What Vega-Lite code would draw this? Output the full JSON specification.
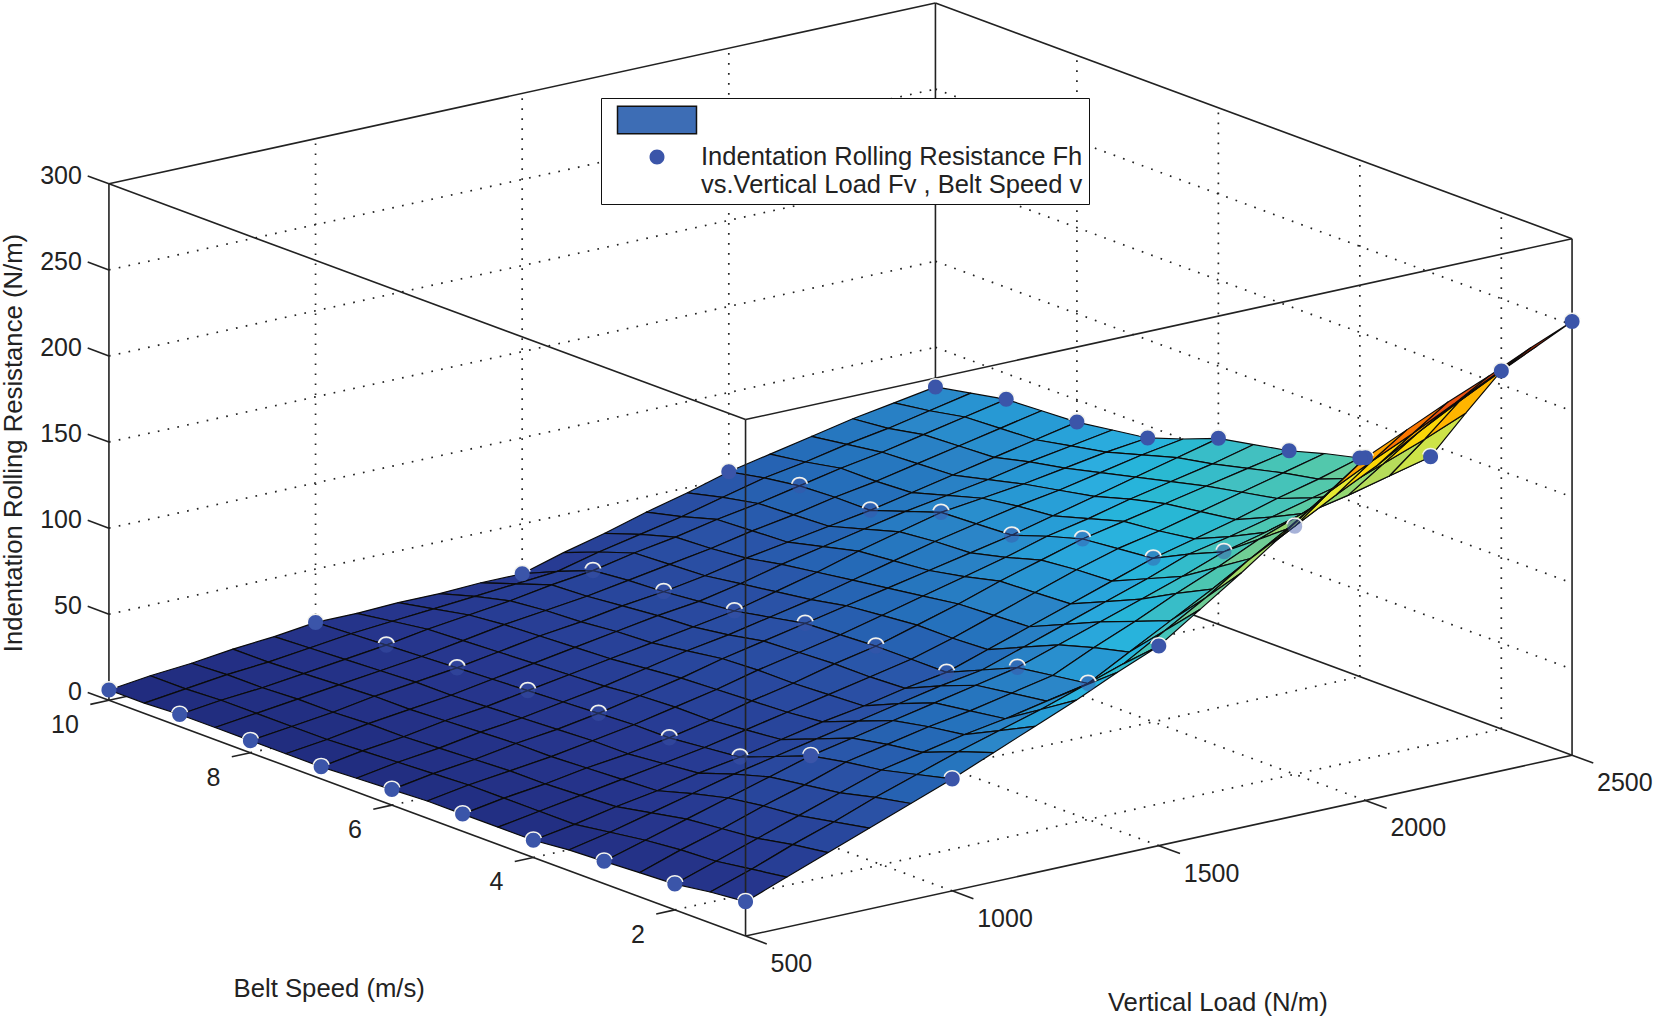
{
"$schema":"https://vega.github.io/schema/vega-lite/v6.json",
"width":1653,"height":1016,"padding":0,"autosize":{"type":"fit","contains":"padding"},
"background":"white",
"config":{"view":{"stroke":null},
"text":{"font":"Liberation Sans","color":"#222"},
"legend":{"orient":"none","legendX":600,"legendY":98,"title":null,"padding":6,"strokeColor":"#111","fillColor":"white","symbolSize":900,"symbolStrokeWidth":1.5,"symbolOffset":34,"labelOffset":28,"labelFont":"Liberation Sans","labelFontSize":25.5,"labelColor":"#222","labelLimit":600,"rowPadding":4}},
"encoding":{
"x":{"field":"px","type":"quantitative","axis":null,"scale":{"domain":[0,1653],"nice":false,"zero":false}},
"y":{"field":"py","type":"quantitative","axis":null,"scale":{"domain":[1016,0],"nice":false,"zero":false}}},
"datasets":{
"frame":[
{"part":"grid","load":1000,"speed":10,"fh":0,"load2":1000,"speed2":10,"fh2":300},
{"part":"grid","load":1500,"speed":10,"fh":0,"load2":1500,"speed2":10,"fh2":300},
{"part":"grid","load":2000,"speed":10,"fh":0,"load2":2000,"speed2":10,"fh2":300},
{"part":"grid","load":1000,"speed":1,"fh":0,"load2":1000,"speed2":10,"fh2":0},
{"part":"grid","load":1500,"speed":1,"fh":0,"load2":1500,"speed2":10,"fh2":0},
{"part":"grid","load":2000,"speed":1,"fh":0,"load2":2000,"speed2":10,"fh2":0},
{"part":"grid","load":2500,"speed":2,"fh":0,"load2":2500,"speed2":2,"fh2":300},
{"part":"grid","load":2500,"speed":4,"fh":0,"load2":2500,"speed2":4,"fh2":300},
{"part":"grid","load":2500,"speed":6,"fh":0,"load2":2500,"speed2":6,"fh2":300},
{"part":"grid","load":2500,"speed":8,"fh":0,"load2":2500,"speed2":8,"fh2":300},
{"part":"grid","load":500,"speed":2,"fh":0,"load2":2500,"speed2":2,"fh2":0},
{"part":"grid","load":500,"speed":4,"fh":0,"load2":2500,"speed2":4,"fh2":0},
{"part":"grid","load":500,"speed":6,"fh":0,"load2":2500,"speed2":6,"fh2":0},
{"part":"grid","load":500,"speed":8,"fh":0,"load2":2500,"speed2":8,"fh2":0},
{"part":"grid","load":500,"speed":10,"fh":50,"load2":2500,"speed2":10,"fh2":50},
{"part":"grid","load":500,"speed":10,"fh":100,"load2":2500,"speed2":10,"fh2":100},
{"part":"grid","load":500,"speed":10,"fh":150,"load2":2500,"speed2":10,"fh2":150},
{"part":"grid","load":500,"speed":10,"fh":200,"load2":2500,"speed2":10,"fh2":200},
{"part":"grid","load":500,"speed":10,"fh":250,"load2":2500,"speed2":10,"fh2":250},
{"part":"grid","load":2500,"speed":10,"fh":50,"load2":2500,"speed2":1,"fh2":50},
{"part":"grid","load":2500,"speed":10,"fh":100,"load2":2500,"speed2":1,"fh2":100},
{"part":"grid","load":2500,"speed":10,"fh":150,"load2":2500,"speed2":1,"fh2":150},
{"part":"grid","load":2500,"speed":10,"fh":200,"load2":2500,"speed2":1,"fh2":200},
{"part":"grid","load":2500,"speed":10,"fh":250,"load2":2500,"speed2":1,"fh2":250},
{"part":"back","load":500,"speed":10,"fh":0,"load2":2500,"speed2":10,"fh2":0},
{"part":"back","load":2500,"speed":10,"fh":0,"load2":2500,"speed2":1,"fh2":0},
{"part":"back","load":2500,"speed":10,"fh":0,"load2":2500,"speed2":10,"fh2":300},
{"part":"front","load":500,"speed":1,"fh":0,"load2":2500,"speed2":1,"fh2":0},
{"part":"front","load":500,"speed":1,"fh":0,"load2":500,"speed2":10,"fh2":0},
{"part":"front","load":500,"speed":1,"fh":0,"load2":500,"speed2":1,"fh2":300},
{"part":"front","load":500,"speed":10,"fh":0,"load2":500,"speed2":10,"fh2":300},
{"part":"front","load":2500,"speed":1,"fh":0,"load2":2500,"speed2":1,"fh2":300},
{"part":"front","load":500,"speed":1,"fh":300,"load2":2500,"speed2":1,"fh2":300},
{"part":"front","load":2500,"speed":1,"fh":300,"load2":2500,"speed2":10,"fh2":300},
{"part":"front","load":2500,"speed":10,"fh":300,"load2":500,"speed2":10,"fh2":300},
{"part":"front","load":500,"speed":10,"fh":300,"load2":500,"speed2":1,"fh2":300},
{"part":"front","load":500,"speed":1,"fh":0,"load2":500,"speed2":0.7,"fh2":0},
{"part":"front","load":1000,"speed":1,"fh":0,"load2":1000,"speed2":0.7,"fh2":0},
{"part":"front","load":1500,"speed":1,"fh":0,"load2":1500,"speed2":0.7,"fh2":0},
{"part":"front","load":2000,"speed":1,"fh":0,"load2":2000,"speed2":0.7,"fh2":0},
{"part":"front","load":2500,"speed":1,"fh":0,"load2":2500,"speed2":0.7,"fh2":0},
{"part":"front","load":500,"speed":2,"fh":0,"load2":455,"speed2":2,"fh2":0},
{"part":"front","load":500,"speed":4,"fh":0,"load2":455,"speed2":4,"fh2":0},
{"part":"front","load":500,"speed":6,"fh":0,"load2":455,"speed2":6,"fh2":0},
{"part":"front","load":500,"speed":8,"fh":0,"load2":455,"speed2":8,"fh2":0},
{"part":"front","load":500,"speed":10,"fh":0,"load2":455,"speed2":10,"fh2":0},
{"part":"front","load":500,"speed":10,"fh":0,"load2":500,"speed2":10.3,"fh2":0},
{"part":"front","load":500,"speed":10,"fh":50,"load2":500,"speed2":10.3,"fh2":50},
{"part":"front","load":500,"speed":10,"fh":100,"load2":500,"speed2":10.3,"fh2":100},
{"part":"front","load":500,"speed":10,"fh":150,"load2":500,"speed2":10.3,"fh2":150},
{"part":"front","load":500,"speed":10,"fh":200,"load2":500,"speed2":10.3,"fh2":200},
{"part":"front","load":500,"speed":10,"fh":250,"load2":500,"speed2":10.3,"fh2":250},
{"part":"front","load":500,"speed":10,"fh":300,"load2":500,"speed2":10.3,"fh2":300}],
"labels":[
{"axis":"load","label":"500","load":500,"speed":1,"fh":0},{"axis":"load","label":"1000","load":1000,"speed":1,"fh":0},{"axis":"load","label":"1500","load":1500,"speed":1,"fh":0},{"axis":"load","label":"2000","load":2000,"speed":1,"fh":0},{"axis":"load","label":"2500","load":2500,"speed":1,"fh":0},
{"axis":"speed","label":"2","load":500,"speed":2,"fh":0},{"axis":"speed","label":"4","load":500,"speed":4,"fh":0},{"axis":"speed","label":"6","load":500,"speed":6,"fh":0},{"axis":"speed","label":"8","load":500,"speed":8,"fh":0},{"axis":"speed","label":"10","load":500,"speed":10,"fh":0},
{"axis":"fh","label":"0","load":500,"speed":10,"fh":0},{"axis":"fh","label":"50","load":500,"speed":10,"fh":50},{"axis":"fh","label":"100","load":500,"speed":10,"fh":100},{"axis":"fh","label":"150","load":500,"speed":10,"fh":150},{"axis":"fh","label":"200","load":500,"speed":10,"fh":200},{"axis":"fh","label":"250","load":500,"speed":10,"fh":250},{"axis":"fh","label":"300","load":500,"speed":10,"fh":300},
{"axis":"loadTitle","label":"Vertical Load (N/m)","load":1500,"speed":1,"fh":0},
{"axis":"speedTitle","label":"Belt Speed (m/s)","load":500,"speed":5.5,"fh":0},
{"axis":"fhTitle","label":"Indentation Rolling Resistance (N/m)","load":500,"speed":10,"fh":150}],
"dots":[
{"series":"dots","load":500,"speed":1,"fh":20},{"series":"dots","load":500,"speed":2,"fh":15},{"series":"dots","load":500,"speed":3,"fh":13},{"series":"dots","load":500,"speed":4,"fh":10},{"series":"dots","load":500,"speed":5,"fh":10},{"series":"dots","load":500,"speed":6,"fh":9},{"series":"dots","load":500,"speed":7,"fh":7},{"series":"dots","load":500,"speed":8,"fh":7},{"series":"dots","load":500,"speed":9,"fh":7},{"series":"dots","load":500,"speed":10,"fh":6},
{"series":"dots","load":1000,"speed":1,"fh":65},{"series":"dots","load":1000,"speed":3,"fh":48},{"series":"dots","load":1000,"speed":4,"fh":32},{"series":"dots","load":1000,"speed":5,"fh":28},{"series":"dots","load":1000,"speed":6,"fh":27},{"series":"dots","load":1000,"speed":7,"fh":25},{"series":"dots","load":1000,"speed":8,"fh":23},{"series":"dots","load":1000,"speed":9,"fh":21},{"series":"dots","load":1000,"speed":10,"fh":19},
{"series":"dots","load":1500,"speed":1,"fh":116},{"series":"dots","load":1500,"speed":2,"fh":79},{"series":"dots","load":1500,"speed":3,"fh":73},{"series":"dots","load":1500,"speed":4,"fh":55},{"series":"dots","load":1500,"speed":5,"fh":55},{"series":"dots","load":1500,"speed":6,"fh":53},{"series":"dots","load":1500,"speed":7,"fh":45},{"series":"dots","load":1500,"speed":8,"fh":41},{"series":"dots","load":1500,"speed":9,"fh":38},{"series":"dots","load":1500,"speed":10,"fh":21},
{"series":"dots","load":2000,"speed":1,"fh":199},{"series":"dots","load":2000,"speed":2,"fh":144},{"series":"dots","load":2000,"speed":3,"fh":114},{"series":"dots","load":2000,"speed":4,"fh":95},{"series":"dots","load":2000,"speed":5,"fh":91},{"series":"dots","load":2000,"speed":6,"fh":78},{"series":"dots","load":2000,"speed":7,"fh":76},{"series":"dots","load":2000,"speed":8,"fh":62},{"series":"dots","load":2000,"speed":9,"fh":61},{"series":"dots","load":2000,"speed":10,"fh":54},
{"series":"dots","load":2500,"speed":1,"fh":252},{"series":"dots","load":2500,"speed":2,"fh":208},{"series":"dots","load":2500,"speed":3,"fh":143},{"series":"dots","load":2500,"speed":4,"fh":127},{"series":"dots","load":2500,"speed":5,"fh":116},{"series":"dots","load":2500,"speed":6,"fh":108},{"series":"dots","load":2500,"speed":7,"fh":93},{"series":"dots","load":2500,"speed":8,"fh":87},{"series":"dots","load":2500,"speed":9,"fh":85},{"series":"dots","load":2500,"speed":10,"fh":77}],
"surface":[
{"load":2500,"speed":10,"fh":77},{"load":2400,"speed":10,"fh":73},{"load":2300,"speed":10,"fh":69},{"load":2200,"speed":10,"fh":64},{"load":2100,"speed":10,"fh":59},{"load":2000,"speed":10,"fh":54},{"load":1900,"speed":10,"fh":47},{"load":1800,"speed":10,"fh":41},{"load":1700,"speed":10,"fh":34},{"load":1600,"speed":10,"fh":28},{"load":1500,"speed":10,"fh":21},{"load":1400,"speed":10,"fh":21},{"load":1300,"speed":10,"fh":20},{"load":1200,"speed":10,"fh":20},{"load":1100,"speed":10,"fh":19},{"load":1000,"speed":10,"fh":19},{"load":900,"speed":10,"fh":16},{"load":800,"speed":10,"fh":14},{"load":700,"speed":10,"fh":11},{"load":600,"speed":10,"fh":9},{"load":500,"speed":10,"fh":6},
{"load":2500,"speed":9.5,"fh":81},{"load":2400,"speed":9.5,"fh":76},{"load":2300,"speed":9.5,"fh":71},{"load":2200,"speed":9.5,"fh":67},{"load":2100,"speed":9.5,"fh":62},{"load":2000,"speed":9.5,"fh":58},{"load":1900,"speed":9.5,"fh":52},{"load":1800,"speed":9.5,"fh":46},{"load":1700,"speed":9.5,"fh":41},{"load":1600,"speed":9.5,"fh":36},{"load":1500,"speed":9.5,"fh":30},{"load":1400,"speed":9.5,"fh":28},{"load":1300,"speed":9.5,"fh":26},{"load":1200,"speed":9.5,"fh":24},{"load":1100,"speed":9.5,"fh":22},{"load":1000,"speed":9.5,"fh":20},{"load":900,"speed":9.5,"fh":17},{"load":800,"speed":9.5,"fh":14},{"load":700,"speed":9.5,"fh":12},{"load":600,"speed":9.5,"fh":9},{"load":500,"speed":9.5,"fh":6},
{"load":2500,"speed":9,"fh":85},{"load":2400,"speed":9,"fh":80},{"load":2300,"speed":9,"fh":75},{"load":2200,"speed":9,"fh":70},{"load":2100,"speed":9,"fh":66},{"load":2000,"speed":9,"fh":61},{"load":1900,"speed":9,"fh":56},{"load":1800,"speed":9,"fh":52},{"load":1700,"speed":9,"fh":47},{"load":1600,"speed":9,"fh":43},{"load":1500,"speed":9,"fh":38},{"load":1400,"speed":9,"fh":35},{"load":1300,"speed":9,"fh":31},{"load":1200,"speed":9,"fh":28},{"load":1100,"speed":9,"fh":25},{"load":1000,"speed":9,"fh":21},{"load":900,"speed":9,"fh":18},{"load":800,"speed":9,"fh":15},{"load":700,"speed":9,"fh":12},{"load":600,"speed":9,"fh":10},{"load":500,"speed":9,"fh":7},
{"load":2500,"speed":8.5,"fh":86},{"load":2400,"speed":8.5,"fh":81},{"load":2300,"speed":8.5,"fh":76},{"load":2200,"speed":8.5,"fh":71},{"load":2100,"speed":8.5,"fh":66},{"load":2000,"speed":8.5,"fh":62},{"load":1900,"speed":8.5,"fh":57},{"load":1800,"speed":8.5,"fh":53},{"load":1700,"speed":8.5,"fh":48},{"load":1600,"speed":8.5,"fh":44},{"load":1500,"speed":8.5,"fh":40},{"load":1400,"speed":8.5,"fh":36},{"load":1300,"speed":8.5,"fh":33},{"load":1200,"speed":8.5,"fh":30},{"load":1100,"speed":8.5,"fh":26},{"load":1000,"speed":8.5,"fh":22},{"load":900,"speed":8.5,"fh":19},{"load":800,"speed":8.5,"fh":16},{"load":700,"speed":8.5,"fh":13},{"load":600,"speed":8.5,"fh":10},{"load":500,"speed":8.5,"fh":7},
{"load":2500,"speed":8,"fh":87},{"load":2400,"speed":8,"fh":82},{"load":2300,"speed":8,"fh":77},{"load":2200,"speed":8,"fh":72},{"load":2100,"speed":8,"fh":67},{"load":2000,"speed":8,"fh":62},{"load":1900,"speed":8,"fh":58},{"load":1800,"speed":8,"fh":54},{"load":1700,"speed":8,"fh":50},{"load":1600,"speed":8,"fh":45},{"load":1500,"speed":8,"fh":41},{"load":1400,"speed":8,"fh":38},{"load":1300,"speed":8,"fh":34},{"load":1200,"speed":8,"fh":31},{"load":1100,"speed":8,"fh":27},{"load":1000,"speed":8,"fh":23},{"load":900,"speed":8,"fh":20},{"load":800,"speed":8,"fh":17},{"load":700,"speed":8,"fh":13},{"load":600,"speed":8,"fh":10},{"load":500,"speed":8,"fh":7},
{"load":2500,"speed":7.5,"fh":90},{"load":2400,"speed":7.5,"fh":86},{"load":2300,"speed":7.5,"fh":82},{"load":2200,"speed":7.5,"fh":77},{"load":2100,"speed":7.5,"fh":73},{"load":2000,"speed":7.5,"fh":69},{"load":1900,"speed":7.5,"fh":64},{"load":1800,"speed":7.5,"fh":59},{"load":1700,"speed":7.5,"fh":54},{"load":1600,"speed":7.5,"fh":48},{"load":1500,"speed":7.5,"fh":43},{"load":1400,"speed":7.5,"fh":40},{"load":1300,"speed":7.5,"fh":36},{"load":1200,"speed":7.5,"fh":32},{"load":1100,"speed":7.5,"fh":28},{"load":1000,"speed":7.5,"fh":24},{"load":900,"speed":7.5,"fh":20},{"load":800,"speed":7.5,"fh":17},{"load":700,"speed":7.5,"fh":14},{"load":600,"speed":7.5,"fh":10},{"load":500,"speed":7.5,"fh":7},
{"load":2500,"speed":7,"fh":93},{"load":2400,"speed":7,"fh":90},{"load":2300,"speed":7,"fh":86},{"load":2200,"speed":7,"fh":82},{"load":2100,"speed":7,"fh":79},{"load":2000,"speed":7,"fh":76},{"load":1900,"speed":7,"fh":70},{"load":1800,"speed":7,"fh":64},{"load":1700,"speed":7,"fh":57},{"load":1600,"speed":7,"fh":51},{"load":1500,"speed":7,"fh":45},{"load":1400,"speed":7,"fh":41},{"load":1300,"speed":7,"fh":37},{"load":1200,"speed":7,"fh":33},{"load":1100,"speed":7,"fh":29},{"load":1000,"speed":7,"fh":25},{"load":900,"speed":7,"fh":21},{"load":800,"speed":7,"fh":18},{"load":700,"speed":7,"fh":14},{"load":600,"speed":7,"fh":11},{"load":500,"speed":7,"fh":7},
{"load":2500,"speed":6.5,"fh":100},{"load":2400,"speed":6.5,"fh":96},{"load":2300,"speed":6.5,"fh":91},{"load":2200,"speed":6.5,"fh":86},{"load":2100,"speed":6.5,"fh":82},{"load":2000,"speed":6.5,"fh":77},{"load":1900,"speed":6.5,"fh":72},{"load":1800,"speed":6.5,"fh":66},{"load":1700,"speed":6.5,"fh":60},{"load":1600,"speed":6.5,"fh":54},{"load":1500,"speed":6.5,"fh":49},{"load":1400,"speed":6.5,"fh":44},{"load":1300,"speed":6.5,"fh":40},{"load":1200,"speed":6.5,"fh":35},{"load":1100,"speed":6.5,"fh":30},{"load":1000,"speed":6.5,"fh":26},{"load":900,"speed":6.5,"fh":22},{"load":800,"speed":6.5,"fh":19},{"load":700,"speed":6.5,"fh":15},{"load":600,"speed":6.5,"fh":12},{"load":500,"speed":6.5,"fh":8},
{"load":2500,"speed":6,"fh":108},{"load":2400,"speed":6,"fh":102},{"load":2300,"speed":6,"fh":96},{"load":2200,"speed":6,"fh":90},{"load":2100,"speed":6,"fh":84},{"load":2000,"speed":6,"fh":78},{"load":1900,"speed":6,"fh":73},{"load":1800,"speed":6,"fh":68},{"load":1700,"speed":6,"fh":63},{"load":1600,"speed":6,"fh":58},{"load":1500,"speed":6,"fh":53},{"load":1400,"speed":6,"fh":48},{"load":1300,"speed":6,"fh":43},{"load":1200,"speed":6,"fh":37},{"load":1100,"speed":6,"fh":32},{"load":1000,"speed":6,"fh":27},{"load":900,"speed":6,"fh":23},{"load":800,"speed":6,"fh":20},{"load":700,"speed":6,"fh":16},{"load":600,"speed":6,"fh":13},{"load":500,"speed":6,"fh":9},
{"load":2500,"speed":5.5,"fh":112},{"load":2400,"speed":5.5,"fh":106},{"load":2300,"speed":5.5,"fh":101},{"load":2200,"speed":5.5,"fh":96},{"load":2100,"speed":5.5,"fh":90},{"load":2000,"speed":5.5,"fh":85},{"load":1900,"speed":5.5,"fh":78},{"load":1800,"speed":5.5,"fh":72},{"load":1700,"speed":5.5,"fh":66},{"load":1600,"speed":5.5,"fh":60},{"load":1500,"speed":5.5,"fh":54},{"load":1400,"speed":5.5,"fh":49},{"load":1300,"speed":5.5,"fh":44},{"load":1200,"speed":5.5,"fh":38},{"load":1100,"speed":5.5,"fh":33},{"load":1000,"speed":5.5,"fh":28},{"load":900,"speed":5.5,"fh":24},{"load":800,"speed":5.5,"fh":20},{"load":700,"speed":5.5,"fh":17},{"load":600,"speed":5.5,"fh":14},{"load":500,"speed":5.5,"fh":10},
{"load":2500,"speed":5,"fh":116},{"load":2400,"speed":5,"fh":111},{"load":2300,"speed":5,"fh":106},{"load":2200,"speed":5,"fh":101},{"load":2100,"speed":5,"fh":96},{"load":2000,"speed":5,"fh":91},{"load":1900,"speed":5,"fh":84},{"load":1800,"speed":5,"fh":77},{"load":1700,"speed":5,"fh":69},{"load":1600,"speed":5,"fh":62},{"load":1500,"speed":5,"fh":55},{"load":1400,"speed":5,"fh":50},{"load":1300,"speed":5,"fh":44},{"load":1200,"speed":5,"fh":39},{"load":1100,"speed":5,"fh":33},{"load":1000,"speed":5,"fh":28},{"load":900,"speed":5,"fh":24},{"load":800,"speed":5,"fh":21},{"load":700,"speed":5,"fh":17},{"load":600,"speed":5,"fh":14},{"load":500,"speed":5,"fh":10},
{"load":2500,"speed":4.5,"fh":122},{"load":2400,"speed":4.5,"fh":116},{"load":2300,"speed":4.5,"fh":110},{"load":2200,"speed":4.5,"fh":104},{"load":2100,"speed":4.5,"fh":98},{"load":2000,"speed":4.5,"fh":93},{"load":1900,"speed":4.5,"fh":86},{"load":1800,"speed":4.5,"fh":78},{"load":1700,"speed":4.5,"fh":70},{"load":1600,"speed":4.5,"fh":62},{"load":1500,"speed":4.5,"fh":55},{"load":1400,"speed":4.5,"fh":50},{"load":1300,"speed":4.5,"fh":45},{"load":1200,"speed":4.5,"fh":40},{"load":1100,"speed":4.5,"fh":35},{"load":1000,"speed":4.5,"fh":30},{"load":900,"speed":4.5,"fh":26},{"load":800,"speed":4.5,"fh":22},{"load":700,"speed":4.5,"fh":18},{"load":600,"speed":4.5,"fh":14},{"load":500,"speed":4.5,"fh":10},
{"load":2500,"speed":4,"fh":127},{"load":2400,"speed":4,"fh":120},{"load":2300,"speed":4,"fh":114},{"load":2200,"speed":4,"fh":107},{"load":2100,"speed":4,"fh":101},{"load":2000,"speed":4,"fh":95},{"load":1900,"speed":4,"fh":87},{"load":1800,"speed":4,"fh":79},{"load":1700,"speed":4,"fh":71},{"load":1600,"speed":4,"fh":63},{"load":1500,"speed":4,"fh":55},{"load":1400,"speed":4,"fh":51},{"load":1300,"speed":4,"fh":46},{"load":1200,"speed":4,"fh":42},{"load":1100,"speed":4,"fh":37},{"load":1000,"speed":4,"fh":32},{"load":900,"speed":4,"fh":28},{"load":800,"speed":4,"fh":23},{"load":700,"speed":4,"fh":19},{"load":600,"speed":4,"fh":14},{"load":500,"speed":4,"fh":10},
{"load":2500,"speed":3.5,"fh":135},{"load":2400,"speed":3.5,"fh":128},{"load":2300,"speed":3.5,"fh":122},{"load":2200,"speed":3.5,"fh":116},{"load":2100,"speed":3.5,"fh":110},{"load":2000,"speed":3.5,"fh":105},{"load":1900,"speed":3.5,"fh":96},{"load":1800,"speed":3.5,"fh":88},{"load":1700,"speed":3.5,"fh":80},{"load":1600,"speed":3.5,"fh":72},{"load":1500,"speed":3.5,"fh":64},{"load":1400,"speed":3.5,"fh":60},{"load":1300,"speed":3.5,"fh":55},{"load":1200,"speed":3.5,"fh":50},{"load":1100,"speed":3.5,"fh":45},{"load":1000,"speed":3.5,"fh":40},{"load":900,"speed":3.5,"fh":35},{"load":800,"speed":3.5,"fh":29},{"load":700,"speed":3.5,"fh":23},{"load":600,"speed":3.5,"fh":17},{"load":500,"speed":3.5,"fh":12},
{"load":2500,"speed":3,"fh":143},{"load":2400,"speed":3,"fh":137},{"load":2300,"speed":3,"fh":131},{"load":2200,"speed":3,"fh":126},{"load":2100,"speed":3,"fh":120},{"load":2000,"speed":3,"fh":114},{"load":1900,"speed":3,"fh":105},{"load":1800,"speed":3,"fh":97},{"load":1700,"speed":3,"fh":89},{"load":1600,"speed":3,"fh":81},{"load":1500,"speed":3,"fh":73},{"load":1400,"speed":3,"fh":68},{"load":1300,"speed":3,"fh":63},{"load":1200,"speed":3,"fh":58},{"load":1100,"speed":3,"fh":53},{"load":1000,"speed":3,"fh":48},{"load":900,"speed":3,"fh":41},{"load":800,"speed":3,"fh":34},{"load":700,"speed":3,"fh":27},{"load":600,"speed":3,"fh":20},{"load":500,"speed":3,"fh":13},
{"load":2500,"speed":2.5,"fh":176},{"load":2400,"speed":2.5,"fh":166},{"load":2300,"speed":2.5,"fh":157},{"load":2200,"speed":2.5,"fh":148},{"load":2100,"speed":2.5,"fh":138},{"load":2000,"speed":2.5,"fh":129},{"load":1900,"speed":2.5,"fh":118},{"load":1800,"speed":2.5,"fh":108},{"load":1700,"speed":2.5,"fh":97},{"load":1600,"speed":2.5,"fh":87},{"load":1500,"speed":2.5,"fh":76},{"load":1400,"speed":2.5,"fh":71},{"load":1300,"speed":2.5,"fh":66},{"load":1200,"speed":2.5,"fh":62},{"load":1100,"speed":2.5,"fh":57},{"load":1000,"speed":2.5,"fh":52},{"load":900,"speed":2.5,"fh":44},{"load":800,"speed":2.5,"fh":37},{"load":700,"speed":2.5,"fh":29},{"load":600,"speed":2.5,"fh":22},{"load":500,"speed":2.5,"fh":14},
{"load":2500,"speed":2,"fh":208},{"load":2400,"speed":2,"fh":196},{"load":2300,"speed":2,"fh":183},{"load":2200,"speed":2,"fh":169},{"load":2100,"speed":2,"fh":157},{"load":2000,"speed":2,"fh":144},{"load":1900,"speed":2,"fh":131},{"load":1800,"speed":2,"fh":118},{"load":1700,"speed":2,"fh":105},{"load":1600,"speed":2,"fh":92},{"load":1500,"speed":2,"fh":79},{"load":1400,"speed":2,"fh":74},{"load":1300,"speed":2,"fh":69},{"load":1200,"speed":2,"fh":65},{"load":1100,"speed":2,"fh":60},{"load":1000,"speed":2,"fh":55},{"load":900,"speed":2,"fh":47},{"load":800,"speed":2,"fh":39},{"load":700,"speed":2,"fh":31},{"load":600,"speed":2,"fh":23},{"load":500,"speed":2,"fh":15},
{"load":2500,"speed":1.5,"fh":230},{"load":2400,"speed":1.5,"fh":219},{"load":2300,"speed":1.5,"fh":207},{"load":2200,"speed":1.5,"fh":195},{"load":2100,"speed":1.5,"fh":184},{"load":2000,"speed":1.5,"fh":172},{"load":1900,"speed":1.5,"fh":156},{"load":1800,"speed":1.5,"fh":142},{"load":1700,"speed":1.5,"fh":126},{"load":1600,"speed":1.5,"fh":112},{"load":1500,"speed":1.5,"fh":98},{"load":1400,"speed":1.5,"fh":90},{"load":1300,"speed":1.5,"fh":82},{"load":1200,"speed":1.5,"fh":75},{"load":1100,"speed":1.5,"fh":68},{"load":1000,"speed":1.5,"fh":60},{"load":900,"speed":1.5,"fh":52},{"load":800,"speed":1.5,"fh":43},{"load":700,"speed":1.5,"fh":35},{"load":600,"speed":1.5,"fh":26},{"load":500,"speed":1.5,"fh":18},
{"load":2500,"speed":1,"fh":252},{"load":2400,"speed":1,"fh":242},{"load":2300,"speed":1,"fh":231},{"load":2200,"speed":1,"fh":221},{"load":2100,"speed":1,"fh":210},{"load":2000,"speed":1,"fh":199},{"load":1900,"speed":1,"fh":182},{"load":1800,"speed":1,"fh":165},{"load":1700,"speed":1,"fh":148},{"load":1600,"speed":1,"fh":132},{"load":1500,"speed":1,"fh":116},{"load":1400,"speed":1,"fh":106},{"load":1300,"speed":1,"fh":95},{"load":1200,"speed":1,"fh":85},{"load":1100,"speed":1,"fh":75},{"load":1000,"speed":1,"fh":65},{"load":900,"speed":1,"fh":56},{"load":800,"speed":1,"fh":47},{"load":700,"speed":1,"fh":38},{"load":600,"speed":1,"fh":29},{"load":500,"speed":1,"fh":20}]
},
"layer":[
{"data":{"name":"frame"},
"transform":[{"filter":"datum.part=='grid'"},
{"calculate":"745+827*(datum.load-500)/2000-637*(datum.speed-1)/9","as":"px"},{"calculate":"937-181*(datum.load-500)/2000-236*(datum.speed-1)/9-517*datum.fh/300","as":"py"},
{"calculate":"745+827*(datum.load2-500)/2000-637*(datum.speed2-1)/9","as":"px2"},{"calculate":"937-181*(datum.load2-500)/2000-236*(datum.speed2-1)/9-517*datum.fh2/300","as":"py2"}],
"mark":{"type":"rule","color":"#222","strokeWidth":1.7,"strokeDash":[1.7,8.3]},
"encoding":{"x2":{"field":"px2"},"y2":{"field":"py2"}}},
{"data":{"name":"frame"},
"transform":[{"filter":"datum.part=='back'"},
{"calculate":"745+827*(datum.load-500)/2000-637*(datum.speed-1)/9","as":"px"},{"calculate":"937-181*(datum.load-500)/2000-236*(datum.speed-1)/9-517*datum.fh/300","as":"py"},
{"calculate":"745+827*(datum.load2-500)/2000-637*(datum.speed2-1)/9","as":"px2"},{"calculate":"937-181*(datum.load2-500)/2000-236*(datum.speed2-1)/9-517*datum.fh2/300","as":"py2"}],
"mark":{"type":"rule","color":"#222","strokeWidth":1.6},
"encoding":{"x2":{"field":"px2"},"y2":{"field":"py2"}}},
{"data":{"name":"surface"},
"transform":[
{"calculate":"[0,1,2,3,4]","as":"corner"},{"flatten":["corner"]},
{"calculate":"(datum.load-500)/100-((datum.corner==1||datum.corner==2)?1:0)","as":"ci"},
{"calculate":"(datum.speed-1)/0.5-((datum.corner==2||datum.corner==3)?1:0)","as":"cj"},
{"filter":"datum.ci>=0&&datum.ci<20&&datum.cj>=0&&datum.cj<18"},
{"calculate":"datum.ci+'-'+datum.cj","as":"cell"},
{"joinaggregate":[{"op":"mean","field":"fh","as":"cellFh"}],"groupby":["cell"]},
{"calculate":"745+827*(datum.load-500)/2000-637*(datum.speed-1)/9","as":"px"},{"calculate":"937-181*(datum.load-500)/2000-236*(datum.speed-1)/9-517*datum.fh/300","as":"py"}],
"mark":{"type":"line","stroke":"#0b0b0b","strokeWidth":1.2,"strokeJoin":"round"},
"encoding":{"detail":{"field":"cell"},"order":{"field":"corner","type":"quantitative"},
"fill":{"field":"cellFh","type":"quantitative","legend":null,"scale":{"domain":[0,25,50,75,92,110,130,150,170,190,210,252],"range":["#1e2878","#27378f","#2a52a6","#2b86c8","#2db0e0","#42bfc2","#6fcd96","#b8dc5a","#f5ec20","#ffb000","#f55a10","#a00000"]}}}},
{"data":{"name":"frame"},
"transform":[{"filter":"datum.part=='front'"},
{"calculate":"745+827*(datum.load-500)/2000-637*(datum.speed-1)/9","as":"px"},{"calculate":"937-181*(datum.load-500)/2000-236*(datum.speed-1)/9-517*datum.fh/300","as":"py"},
{"calculate":"745+827*(datum.load2-500)/2000-637*(datum.speed2-1)/9","as":"px2"},{"calculate":"937-181*(datum.load2-500)/2000-236*(datum.speed2-1)/9-517*datum.fh2/300","as":"py2"}],
"mark":{"type":"rule","color":"#222","strokeWidth":1.6},
"encoding":{"x2":{"field":"px2"},"y2":{"field":"py2"}}},
{"data":{"name":"dots"},
"transform":[{"calculate":"745+827*(datum.load-500)/2000-637*(datum.speed-1)/9","as":"px"},{"calculate":"937-181*(datum.load-500)/2000-236*(datum.speed-1)/9-517*datum.fh/300","as":"py"}],
"mark":{"type":"arc","theta":-1.3,"theta2":1.3,"innerRadius":7,"outerRadius":9,"color":"#f4f4ee"}},
{"data":{"name":"dots"},
"transform":[{"filter":"!(datum.load==500||datum.load==2500||datum.speed==1||datum.speed==10||(datum.load==1000&&datum.speed==3))"},{"calculate":"745+827*(datum.load-500)/2000-637*(datum.speed-1)/9","as":"px"},{"calculate":"937-181*(datum.load-500)/2000-236*(datum.speed-1)/9-517*datum.fh/300","as":"py"}],
"mark":{"type":"point","filled":true,"size":900,"shape":"M-0.5,0A0.5,0.5,0,1,1,0.5,0A0.5,0.5,0,1,1,-0.5,0Z","color":"#3b55a9","opacity":0.45}},
{"data":{"name":"dots"},
"transform":[{"filter":"datum.load==500||datum.load==2500||datum.speed==1||datum.speed==10||(datum.load==1000&&datum.speed==3)"},{"calculate":"745+827*(datum.load-500)/2000-637*(datum.speed-1)/9","as":"px"},{"calculate":"937-181*(datum.load-500)/2000-236*(datum.speed-1)/9-517*datum.fh/300","as":"py"}],
"mark":{"type":"point","filled":true,"size":900,"opacity":1},
"encoding":{
"shape":{"field":"series","type":"nominal","legend":{"labelExpr":"datum.value=='dots' ? ['Indentation Rolling Resistance Fh','\u00a0\u00a0vs.Vertical Load Fv , Belt Speed v\u00a0'] : ' '","encoding":{"labels":{"update":{"lineHeight":{"value":32}}}}},"scale":{"domain":["surface","dots"],"range":["M-2.633,-0.913H2.633V0.913H-2.633Z","M-0.5,0A0.5,0.5,0,1,1,0.5,0A0.5,0.5,0,1,1,-0.5,0Z"]}},
"color":{"field":"series","type":"nominal","legend":{"labelExpr":"datum.value=='dots' ? ['Indentation Rolling Resistance Fh','\u00a0\u00a0vs.Vertical Load Fv , Belt Speed v\u00a0'] : ' '","encoding":{"labels":{"update":{"lineHeight":{"value":32}}}}},"scale":{"domain":["surface","dots"],"range":["#3d6db5","#3b55a9"]}},
"stroke":{"field":"series","type":"nominal","legend":{"labelExpr":"datum.value=='dots' ? ['Indentation Rolling Resistance Fh','\u00a0\u00a0vs.Vertical Load Fv , Belt Speed v\u00a0'] : ' '","encoding":{"labels":{"update":{"lineHeight":{"value":32}}}}},"scale":{"domain":["surface","dots"],"range":["#111111","transparent"]}}}},
{"data":{"name":"labels"},
"transform":[{"filter":"datum.axis=='load'"},{"calculate":"745+827*(datum.load-500)/2000-637*(datum.speed-1)/9","as":"px"},{"calculate":"937-181*(datum.load-500)/2000-236*(datum.speed-1)/9-517*datum.fh/300","as":"py"}],
"mark":{"type":"text","align":"left","baseline":"middle","dx":25,"dy":28,"fontSize":25},
"encoding":{"text":{"field":"label"}}},
{"data":{"name":"labels"},
"transform":[{"filter":"datum.axis=='speed'"},{"calculate":"745+827*(datum.load-500)/2000-637*(datum.speed-1)/9","as":"px"},{"calculate":"937-181*(datum.load-500)/2000-236*(datum.speed-1)/9-517*datum.fh/300","as":"py"}],
"mark":{"type":"text","align":"right","baseline":"middle","dx":-30,"dy":25,"fontSize":25},
"encoding":{"text":{"field":"label"}}},
{"data":{"name":"labels"},
"transform":[{"filter":"datum.axis=='fh'"},{"calculate":"745+827*(datum.load-500)/2000-637*(datum.speed-1)/9","as":"px"},{"calculate":"937-181*(datum.load-500)/2000-236*(datum.speed-1)/9-517*datum.fh/300","as":"py"}],
"mark":{"type":"text","align":"right","baseline":"middle","dx":-27,"dy":-8,"fontSize":25},
"encoding":{"text":{"field":"label"}}},
{"data":{"name":"labels"},
"transform":[{"filter":"datum.axis=='loadTitle'"},{"calculate":"745+827*(datum.load-500)/2000-637*(datum.speed-1)/9","as":"px"},{"calculate":"937-181*(datum.load-500)/2000-236*(datum.speed-1)/9-517*datum.fh/300","as":"py"}],
"mark":{"type":"text","align":"center","baseline":"middle","dx":59,"dy":157,"fontSize":25.7},
"encoding":{"text":{"field":"label"}}},
{"data":{"name":"labels"},
"transform":[{"filter":"datum.axis=='speedTitle'"},{"calculate":"745+827*(datum.load-500)/2000-637*(datum.speed-1)/9","as":"px"},{"calculate":"937-181*(datum.load-500)/2000-236*(datum.speed-1)/9-517*datum.fh/300","as":"py"}],
"mark":{"type":"text","align":"center","baseline":"middle","dx":-98,"dy":171,"fontSize":25.7},
"encoding":{"text":{"field":"label"}}},
{"data":{"name":"labels"},
"transform":[{"filter":"datum.axis=='fhTitle'"},{"calculate":"745+827*(datum.load-500)/2000-637*(datum.speed-1)/9","as":"px"},{"calculate":"937-181*(datum.load-500)/2000-236*(datum.speed-1)/9-517*datum.fh/300","as":"py"}],
"mark":{"type":"text","align":"center","baseline":"middle","angle":270,"dx":-1,"dy":-95,"fontSize":25.7},
"encoding":{"text":{"field":"label"}}}
]
}
